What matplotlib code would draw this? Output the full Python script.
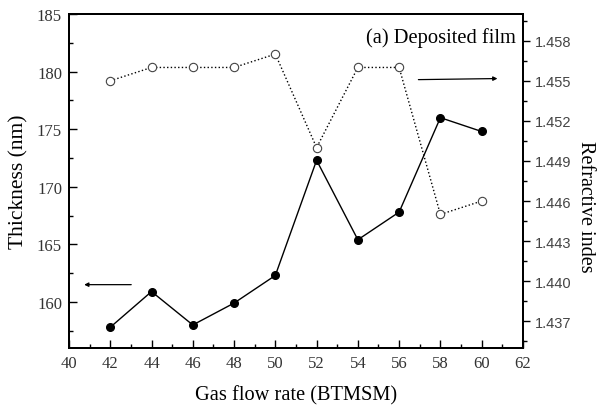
import matplotlib.pyplot as plt
from matplotlib.ticker import MultipleLocator, FixedLocator

# gas flow rate (sccm of BTMSM)
flow = [42, 44, 46, 48, 50, 52, 54, 56, 58, 60]
thickness = [157.8, 160.9, 158.0, 159.9, 162.3, 172.3, 165.4, 167.8, 176.0, 174.8]
ref_index = [1.455, 1.456, 1.456, 1.456, 1.457, 1.450, 1.456, 1.456, 1.445, 1.446]

serif = ['Liberation Serif', 'DejaVu Serif']
sans = ['Liberation Sans', 'DejaVu Sans']

fig = plt.figure(figsize=(5.99, 4.06), dpi=100)
ax = fig.add_axes([0.1152, 0.1404, 0.7578, 0.8226])

ax.plot(flow, thickness, '-', color='black', lw=1.0,
        marker='o', ms=5.5, mfc='black', mec='black')
ax.set_xlim(40, 62)
ax.set_ylim(156, 185)
ax.xaxis.set_major_locator(MultipleLocator(2))
ax.xaxis.set_minor_locator(MultipleLocator(1))
ax.yaxis.set_major_locator(MultipleLocator(5))
ax.yaxis.set_minor_locator(MultipleLocator(2.5))
ax.tick_params(which='both', direction='in', top=False, right=False, width=1.0)
ax.tick_params(which='major', length=6, pad=5)
ax.tick_params(which='minor', length=3)
for lab in ax.get_xticklabels() + ax.get_yticklabels():
    lab.set_family(serif)
    lab.set_fontsize(12)
    lab.set_color('#333333')
for s in ax.spines.values():
    s.set_linewidth(1.4)

ax.set_xlabel('Gas flow rate (BTMSM)', family=serif, fontsize=14.7, labelpad=10)
ax.set_ylabel('Thickness (nm)', family=serif, fontsize=15.5, labelpad=6)

ax2 = ax.twinx()
ax2.plot(flow, ref_index, ':', color='black', lw=1.0,
         marker='o', ms=6, mfc='white', mec='#444444', mew=0.8)
ax2.set_ylim(1.435, 1.460)
ax2.yaxis.set_major_locator(FixedLocator([1.437, 1.440, 1.443, 1.446, 1.449, 1.452, 1.455, 1.458]))
ax2.yaxis.set_minor_locator(FixedLocator([1.4355 + 0.003 * i for i in range(9)]))
ax2.yaxis.set_major_formatter(plt.FuncFormatter(lambda v, p: '%.3f' % v))
ax2.tick_params(which='both', direction='out', width=1.0)
ax2.tick_params(which='major', length=5)
ax2.tick_params(which='minor', length=3)
for lab in ax2.get_yticklabels():
    lab.set_family(sans)
    lab.set_fontsize(10.5)
    lab.set_color('#444444')
for s in ax2.spines.values():
    s.set_linewidth(1.4)

# arrows pointing at each axis
ax.annotate('', xy=(40.6, 161.5), xytext=(43.15, 161.5),
            arrowprops=dict(arrowstyle='-|>', color='black', lw=0.9, mutation_scale=6))
ax.annotate('', xy=(60.9, 179.4), xytext=(56.8, 179.3),
            arrowprops=dict(arrowstyle='-|>', color='black', lw=0.9, mutation_scale=6))

ax.text(0.985, 0.96, '(a) Deposited film', transform=ax.transAxes,
        ha='right', va='top', family=serif, fontsize=14.8)

fig.text(0.962, 0.49, 'Refractive indes', rotation=270, ha='left', va='center',
         family=serif, fontsize=14.5)

fig.savefig('out.png', dpi=100)
